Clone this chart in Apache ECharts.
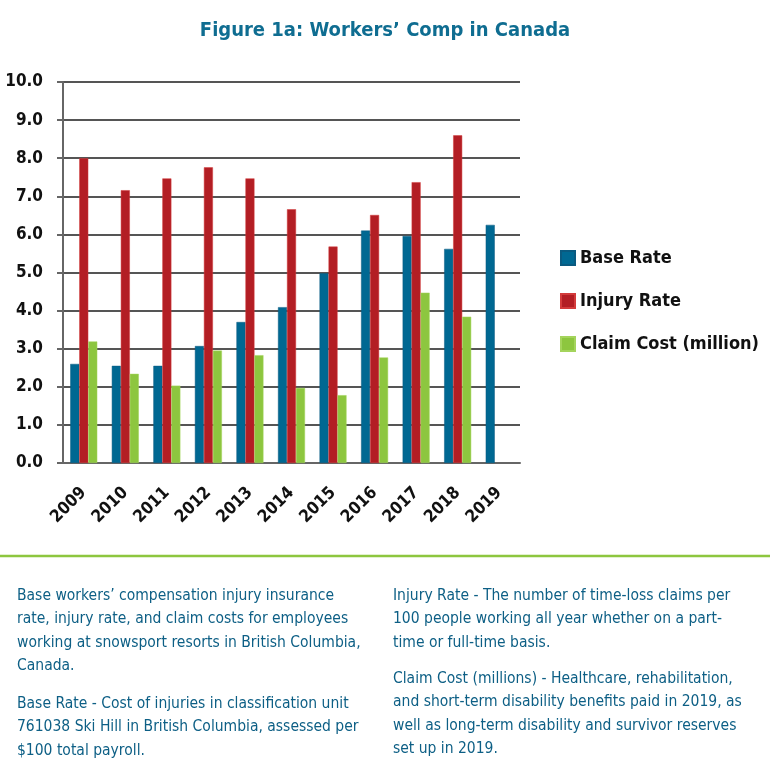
<!DOCTYPE html>
<html lang="en">
<head>
    <meta charset="UTF-8">
    <title>Workers' Comp in Canada</title>
    <script src="https://cdn.jsdelivr.net/npm/echarts@6/dist/echarts.min.js"></script>
    <style>
        html, body { margin: 0; padding: 0; background: #fff; }
        #main { width: 770px; height: 780px; }
    </style>
</head>
<body>
<div id="main"></div>
<script>
    // data
    var years = ['2009', '2010', '2011', '2012', '2013', '2014', '2015', '2016', '2017', '2018', '2019'];
    var baseRate = [2.6, 2.55, 2.55, 3.07, 3.7, 4.09, 4.98, 6.1, 5.96, 5.62, 6.25];
    var injuryRate = [8.0, 7.16, 7.47, 7.76, 7.47, 6.66, 5.68, 6.51, 7.37, 8.6, null];
    var claimCost = [3.19, 2.34, 2.03, 2.95, 2.83, 1.97, 1.78, 2.77, 4.47, 3.84, null];

    var font = '"Liberation Sans Narrow", "DejaVu Sans Condensed", sans-serif';
    var textBlue = '#0d5f85';

    var leftNotes = [
        'Base workers\u2019 compensation injury insurance\nrate, injury rate, and claim costs for employees\nworking at snowsport resorts in British Columbia,\nCanada.',
        'Base Rate - Cost of injuries in classification unit\n761038 Ski Hill in British Columbia, assessed per\n$100 total payroll.'
    ];
    var rightNotes = [
        'Injury Rate - The number of time-loss claims per\n100 people working all year whether on a part-\ntime or full-time basis.',
        'Claim Cost (millions) - Healthcare, rehabilitation,\nand short-term disability benefits paid in 2019, as\nwell as long-term disability and survivor reserves\nset up in 2019.'
    ];

    var chart = echarts.init(document.getElementById('main'));

    function note(x, y, txt) {
        return {
            type: 'text', left: x, top: y,
            style: {
                text: txt, fill: textBlue, font: '15.5px ' + font, lineHeight: 23.5
            }
        };
    }

    var option = {
        animation: false,
        textStyle: {fontFamily: font},
        title: {
            text: 'Figure 1a: Workers\u2019 Comp in Canada',
            left: 'center',
            top: 16,
            textStyle: {color: '#0f6d91', fontSize: 20, fontWeight: 'bold', fontFamily: font}
        },
        legend: {
            orient: 'vertical',
            left: 560,
            top: 249,
            padding: 0,
            itemWidth: 14,
            itemHeight: 14,
            itemGap: 25,
            icon: 'rect',
            textStyle: {color: '#111', fontSize: 18, fontWeight: 'bold', fontFamily: font},
            data: ['Base Rate', 'Injury Rate', 'Claim Cost (million)']
        },
        grid: {left: 63, right: 250, top: 82, bottom: 317},
        xAxis: {
            type: 'category',
            data: years,
            axisLine: {lineStyle: {color: '#666', width: 2}},
            axisTick: {show: false},
            axisLabel: {
                rotate: 45, color: '#111', fontSize: 17, fontWeight: 'bold',
                fontFamily: font, margin: 27
            }
        },
        yAxis: {
            type: 'value',
            min: 0, max: 10, interval: 1,
            axisLine: {show: true, lineStyle: {color: '#666', width: 2}},
            axisTick: {show: true, length: 6, lineStyle: {color: '#666', width: 2}},
            splitLine: {lineStyle: {color: '#555', width: 2}},
            axisLabel: {
                color: '#111', fontSize: 17, fontWeight: 'bold', fontFamily: font, margin: 20,
                formatter: function (v) { return v.toFixed(1); }
            }
        },
        series: [
            {
                name: 'Base Rate', type: 'bar', data: baseRate,
                barWidth: 9, barGap: '0%',
                itemStyle: {color: '#006892', borderColor: '#0a5a80', borderWidth: 0.5}
            },
            {
                name: 'Injury Rate', type: 'bar', data: injuryRate,
                barWidth: 9, barGap: '0%',
                itemStyle: {color: '#b31e24', borderColor: '#d33b3b', borderWidth: 0.5}
            },
            {
                name: 'Claim Cost (million)', type: 'bar', data: claimCost,
                barWidth: 9, barGap: '0%',
                itemStyle: {color: '#8dc63f', borderColor: '#a4d45c', borderWidth: 0.5}
            }
        ],
        graphic: [
            {
                type: 'line',
                shape: {x1: 0, y1: 556, x2: 770, y2: 556},
                style: {stroke: '#8dc63f', lineWidth: 2.5}
            },
            note(17, 584, leftNotes[0]),
            note(17, 692, leftNotes[1]),
            note(393, 584, rightNotes[0]),
            note(393, 667, rightNotes[1])
        ]
    };

    chart.setOption(option);
</script>
</body>
</html>
